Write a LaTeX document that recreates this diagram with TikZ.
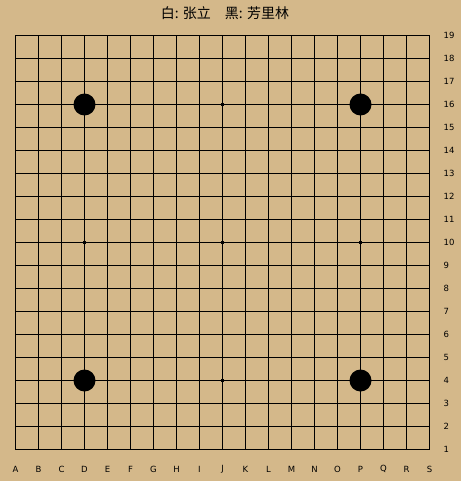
\documentclass[tikz,border=0pt]{standalone}
\usepackage{fontspec}
\setmainfont{DejaVu Sans}
\newfontfamily\cjk{Noto Sans CJK SC}
\definecolor{board}{RGB}{212,184,138}
\begin{document}
\begin{tikzpicture}[x=1pt,y=-1pt,
  gridline/.style={line width=1.3pt,black},
  stone/.style={circle,fill=black,minimum size=22pt,inner sep=0pt},
  hoshi/.style={rectangle,fill=black,minimum size=3.6pt,inner sep=0pt},
  coltext/.style={font=\fontsize{8.5}{8.5}\selectfont,inner sep=0pt},
  rowtext/.style={font=\fontsize{8.5}{8.5}\selectfont,inner sep=0pt,anchor=west}]
\fill[board] (0,0) rectangle (461,481);
\useasboundingbox (0,0) rectangle (461,481);
\foreach \i in {0,...,18} {
  \draw[gridline] (15.5+23*\i,35.5) -- (15.5+23*\i,449.5);
  \draw[gridline] (15.5,35.5+23*\i) -- (429.5,35.5+23*\i);
}
\foreach \l [count=\i from 0] in {A,B,C,D,E,F,G,H,I,J,K,L,M,N,O,P,Q,R,S}
  \node[coltext] (c\l) at (15.5+23*\i,469) {\l};
\foreach \i in {1,...,19}
  \node[rowtext] (r\i) at (443.5,35.5+23*19-23*\i) {\i};
\foreach \x/\y [count=\k] in {9/3,3/9,9/9,15/9,9/15}
  \node[hoshi] (h\k) at (15.5+23*\x,35.5+23*\y) {};
\foreach \x/\y/\n in {3/3/d16,15/3/p16,3/15/d4,15/15/p4}
  \node[stone] (\n) at (15.5+23*\x,35.5+23*\y) {};
\node[font=\cjk\fontsize{14}{14}\selectfont,inner sep=0pt] (title) at (225,13) {白: 张立\hspace{1em}黑: 芳里林};
\end{tikzpicture}
\end{document}
